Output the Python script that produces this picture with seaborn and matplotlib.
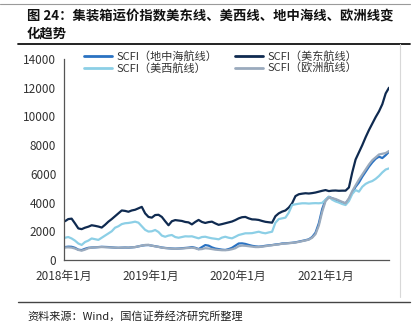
import numpy as np
import pandas as pd
import matplotlib
matplotlib.use("Agg")
import matplotlib.pyplot as plt
from matplotlib.lines import Line2D
import seaborn as sns

# Fortnightly SCFI readings, 2018-01-05 .. 2021-09-24
dates = pd.date_range("2018-01-05", periods=98, freq="14D")

med = [
    900, 930, 920, 850, 720, 690, 780, 850, 870, 880,
    900, 920, 910, 900, 880, 860, 850, 860, 870, 860,
    880, 900, 950, 1000, 1030, 1040, 1000, 960, 920, 870,
    840, 820, 800, 790, 800, 820, 840, 860, 900, 850,
    760, 900, 1040, 1000, 880, 800, 760, 720, 700, 760,
    850, 1000, 1150, 1160, 1120, 1050, 990, 950, 930, 950,
    990, 1020, 1040, 1080, 1100, 1150, 1160, 1180, 1200, 1230,
    1280, 1330, 1380, 1440, 1600, 1900, 2560, 3550, 4180, 4400,
    4300, 4200, 4100, 4000, 3950, 4250, 4700, 5100, 5400, 5800,
    6150, 6500, 6800, 7050, 7200, 7100, 7300, 7540,
]

us_east = [
    2700, 2850, 2880, 2550, 2200, 2150, 2250, 2320, 2420, 2380,
    2330, 2260, 2450, 2670, 2850, 3050, 3250, 3450, 3420, 3360,
    3450, 3500, 3600, 3700, 3250, 3000, 2950, 3130, 3150, 3000,
    2700, 2420, 2700, 2780, 2750, 2720, 2650, 2620, 2480, 2650,
    2790, 2650, 2580, 2640, 2670, 2550, 2450, 2500, 2560, 2620,
    2680, 2780, 2900, 2980, 3000, 2900, 2830, 2820, 2790, 2720,
    2660, 2630, 2600, 3050, 3250, 3370, 3450, 3650, 3950, 4450,
    4580, 4620, 4650, 4630, 4660, 4700, 4760, 4820, 4870, 4800,
    4830, 4840, 4820, 4830, 4830, 5050, 6100, 7000, 7500, 8000,
    8550, 9050, 9500, 9950, 10350, 10850, 11600, 12000,
]

us_west = [
    1550, 1600, 1500, 1350, 1150, 1050, 1250, 1350, 1500, 1450,
    1400, 1550, 1700, 1850, 2000, 2250, 2350, 2500, 2560, 2580,
    2620, 2670, 2600, 2350, 2100, 1980, 2000, 2090, 1950, 1700,
    1620, 1700, 1740, 1600, 1550, 1600, 1650, 1640, 1650, 1580,
    1510, 1600, 1620, 1560, 1510, 1480, 1440, 1560, 1620, 1550,
    1510, 1620, 1740, 1800, 1860, 1860, 1870, 1920, 1970, 1900,
    1860, 1920, 1970, 2600, 2850, 2900, 2950, 3300, 3830, 3880,
    3920, 3950, 3950, 3930, 3950, 3960, 3950, 3980, 4200, 4400,
    4200, 4080, 4000, 3900, 3830, 4100, 4600, 4870, 4760, 5100,
    5300, 5420, 5500, 5650, 5850, 6100, 6300, 6380,
]

europe = [
    870, 880, 860, 800, 700, 650, 720, 820, 860, 880,
    890, 900, 890, 880, 870, 860, 850, 860, 870, 860,
    880, 900, 950, 1000, 1050, 1060, 1000, 950, 910, 860,
    830, 810, 790, 780, 790, 800, 820, 840, 860, 820,
    740, 760, 820, 800, 760, 720, 700, 680, 680, 700,
    750, 820, 960, 1000, 990, 960, 930, 900, 900, 930,
    960, 1000, 1030, 1060, 1090, 1130, 1150, 1170, 1190, 1220,
    1260, 1310, 1360, 1420, 1550, 1800, 2400, 3350, 4100, 4350,
    4300, 4250, 4150, 4050, 3950, 4300, 4800, 5200, 5600, 5950,
    6300, 6650, 6950, 7150, 7350, 7400, 7450, 7590,
]

series_names = ["SCFI（地中海航线）", "SCFI（美东航线）", "SCFI（美西航线）", "SCFI（欧洲航线）"]
series_values = [med, us_east, us_west, europe]
colors = ["#2a72c2", "#0f2a50", "#8ccfe6", "#9aaabd"]

y_ticks = [0, 2000, 4000, 6000, 8000, 10000, 12000, 14000]
x_tick_dates = pd.to_datetime(["2018-01-01", "2019-01-01", "2020-01-01", "2021-01-01"])
x_tick_labels = ["2018年1月", "2019年1月", "2020年1月", "2021年1月"]

title = "图 24：集装箱运价指数美东线、美西线、地中海线、欧洲线变\n化趋势"
source = "资料来源：Wind，国信证券经济研究所整理"

df = pd.concat(
    [pd.DataFrame({"date": dates, "value": v, "route": n}) for n, v in zip(series_names, series_values)],
    ignore_index=True,
)

sns.set_style("white")
plt.rcParams["font.family"] = ["Noto Sans CJK SC", "DejaVu Sans"]

W, H = 419, 333
fig = plt.figure(figsize=(W / 100, H / 100), dpi=100)
ax = fig.add_axes([64 / W, 1 - 260 / H, 325 / W, 201 / H])

sns.lineplot(
    data=df, x="date", y="value", hue="route", hue_order=series_names,
    palette=dict(zip(series_names, colors)), linewidth=1.6, ax=ax, legend=False,
)

ax.set_xlim(pd.Timestamp("2018-01-01"), dates[-1])
ax.set_ylim(0, 14000)
ax.set_yticks(y_ticks)
ax.set_yticklabels([str(t) for t in y_ticks])
ax.set_xticks(x_tick_dates)
ax.set_xticklabels(x_tick_labels)
ax.set_xlabel("")
ax.set_ylabel("")

for s in ["top", "right"]:
    ax.spines[s].set_visible(False)
for s in ["left", "bottom"]:
    ax.spines[s].set_color("#555555")
    ax.spines[s].set_linewidth(0.9)
ax.tick_params(axis="both", labelsize=8.5, colors="#555555", labelcolor="#333333",
               length=3, width=0.8, direction="inout")
ax.tick_params(axis="x", pad=6)
ax.tick_params(axis="y", pad=4)

# two rows: (Med, US East) over (US West, Europe); legend fills column by column
order = [0, 2, 1, 3]
handles = [Line2D([0], [0], color=colors[i], lw=2) for i in order]
labels = [series_names[i] for i in order]
fig.legend(
    handles, labels, loc="upper left", bbox_to_anchor=(84 / W, 1 - 51 / H),
    ncol=2, frameon=False, fontsize=8, handlelength=2.5, handletextpad=0.4,
    columnspacing=1.6, labelspacing=0.1, borderpad=0, borderaxespad=0,
    labelcolor="#333333",
)

# page furniture: rules, right border, title and source
fig.add_artist(Line2D([0, 410 / W], [1 - 4 / H] * 2, color="#9a9a9a", lw=0.8, transform=fig.transFigure))
fig.add_artist(Line2D([18 / W, 410 / W], [1 - 44 / H] * 2, color="#111111", lw=1.3, transform=fig.transFigure))
fig.add_artist(Line2D([18 / W, 410 / W], [1 - 302 / H] * 2, color="#444444", lw=1.0, transform=fig.transFigure))
fig.add_artist(Line2D([400 / W, 400 / W], [1 - 44 / H, 1 - 297 / H], color="#d8d8d8", lw=0.8, transform=fig.transFigure))

fig.text(27 / W, 1 - 9 / H, title, ha="left", va="top", fontsize=9.6, fontweight="bold",
         color="#111111", linespacing=1.3)
fig.text(27 / W, 1 - 316 / H, source, ha="left", va="center", fontsize=8, color="#222222")

fig.savefig("out.png", dpi=100)
